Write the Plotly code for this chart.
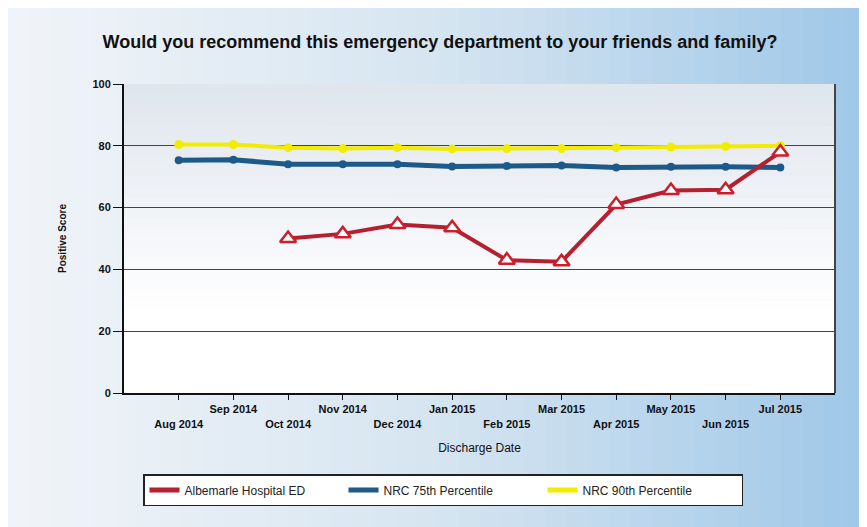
import plotly.graph_objects as go

months = ["Aug 2014", "Sep 2014", "Oct 2014", "Nov 2014", "Dec 2014", "Jan 2015",
          "Feb 2015", "Mar 2015", "Apr 2015", "May 2015", "Jun 2015", "Jul 2015"]
hospital = [None, None, 50.0, 51.5, 54.5, 53.5, 43.0, 42.5, 61.0, 65.5, 65.8, 78.0]
nrc75 = [75.3, 75.5, 74.0, 74.0, 74.0, 73.3, 73.5, 73.6, 73.0, 73.2, 73.2, 73.0]
nrc90 = [80.4, 80.4, 79.4, 79.1, 79.4, 79.0, 79.1, 79.1, 79.4, 79.6, 79.8, 80.0]
y_ticks = [0, 20, 40, 60, 80, 100]
series_names = ["Albemarle Hospital ED", "NRC 75th Percentile", "NRC 90th Percentile"]

idx = list(range(len(months)))
ticktext = [("<br>" + m) if i % 2 == 0 else (m + "<br> ") for i, m in enumerate(months)]

FONT = "Liberation Sans, Arial, sans-serif"
RED, BLUE, YELLOW = "#b42030", "#1d5a8a", "#f2ec00"

# page body has an 8px margin: the figure is sized/offset to compensate
W, H = 859, 519
L, R, T, B = 116, 32, 76, 134
PW, PH = W - L - R, H - T - B

fig = go.Figure()

fig.add_trace(go.Scatter(
    x=idx, y=nrc90, name=series_names[2], mode="lines+markers",
    line=dict(color=YELLOW, width=4),
    marker=dict(symbol="circle", size=9, color=YELLOW),
    showlegend=False,
))
fig.add_trace(go.Scatter(
    x=idx, y=nrc75, name=series_names[1], mode="lines+markers",
    line=dict(color=BLUE, width=5),
    marker=dict(symbol="circle", size=8, color=BLUE),
    showlegend=False,
))
fig.add_trace(go.Scatter(
    x=idx, y=hospital, name=series_names[0], mode="lines+markers",
    line=dict(color=RED, width=4),
    marker=dict(symbol="triangle-up", size=14, color="white",
                line=dict(color="#cc1f2c", width=2.5)),
    showlegend=False,
))
# legend entries (line only, as in the original legend)
for nm, col in zip(series_names, [RED, BLUE, YELLOW]):
    fig.add_trace(go.Scatter(x=[None], y=[None], name=nm, mode="lines",
                             line=dict(color=col, width=5), showlegend=True))

# background gradient (paper) approximated with strips
shapes = []
n = 40
def mix(c1, c2, t):
    return "rgb(%d,%d,%d)" % tuple(round(a + (b - a) * t) for a, b in zip(c1, c2))
left = (240, 244, 248)
mid = (214, 229, 241)
right = (160, 200, 232)
for k in range(n):
    t = k / (n - 1)
    if t < 0.5:
        col = mix(left, mid, t / 0.5)
    else:
        col = mix(mid, right, (t - 0.5) / 0.5)
    shapes.append(dict(type="rect", xref="paper", yref="paper",
                       x0=-L / PW + k * (W / PW) / n,
                       x1=-L / PW + (k + 1.05) * (W / PW) / n,
                       y0=-B / PH, y1=1 + T / PH,
                       fillcolor=col, line=dict(width=0), layer="below"))
# plot area vertical gradient
m = 30
top = (224, 230, 238)
bot = (255, 255, 255)
for k in range(m):
    t = k / (m - 1)
    tt = min(1.0, t / 0.75)
    col = mix(top, bot, tt)
    shapes.append(dict(type="rect", xref="paper", yref="paper",
                       x0=0, x1=1,
                       y0=1 - (k + 1.05) / m, y1=1 - k / m,
                       fillcolor=col, line=dict(width=0), layer="below"))
# right frame line
shapes.append(dict(type="line", xref="paper", yref="paper", x0=1, x1=1, y0=0, y1=1,
                   line=dict(color="#444", width=2), layer="above"))

fig.update_layout(
    width=W, height=H,
    margin=dict(l=L, r=R, t=T, b=B, autoexpand=False),
    paper_bgcolor="#dde9f3",
    plot_bgcolor="rgba(0,0,0,0)",
    shapes=shapes,
    title=dict(text="<b>Would you recommend this emergency department to your friends and family?</b>",
               x=(432 - L) / PW, xanchor="center", xref="paper", y=1 - 34 / H, yanchor="middle",
               font=dict(family=FONT, size=18, color="#111")),
    font=dict(family=FONT, color="#111"),
    showlegend=True,
    legend=dict(orientation="h", x=(135 - L) / PW, xanchor="left",
                y=(T + PH - 466) / PH, yanchor="top",
                bgcolor="white", bordercolor="#222", borderwidth=1.5,
                font=dict(family=FONT, size=12, color="#222"),
                entrywidth=154, entrywidthmode="pixels",
                itemwidth=30, tracegroupgap=0),
    xaxis=dict(
        range=[-1, 12], tickvals=idx, ticktext=ticktext, tickangle=0,
        showgrid=False, zeroline=False,
        showline=True, linecolor="#111", linewidth=2,
        ticks="outside", ticklen=5, tickcolor="#111",
        tickfont=dict(family=FONT, size=11, color="#111", weight="bold"),
        title=dict(text="Discharge Date", font=dict(family=FONT, size=12, color="#111"), standoff=15),
    ),
    yaxis=dict(
        range=[0, 100], tickvals=y_ticks, showgrid=True, gridcolor="#444", gridwidth=1.3,
        zeroline=False, showline=True, linecolor="#111", linewidth=2,
        ticks="outside", ticklen=9, tickcolor="#111",
        tickfont=dict(family=FONT, size=11, color="#111", weight="bold"),
        title=dict(text="Positive Score", font=dict(family=FONT, size=10, color="#111", weight="bold"), standoff=24),
    ),
)

fig.write_html("out.html")
